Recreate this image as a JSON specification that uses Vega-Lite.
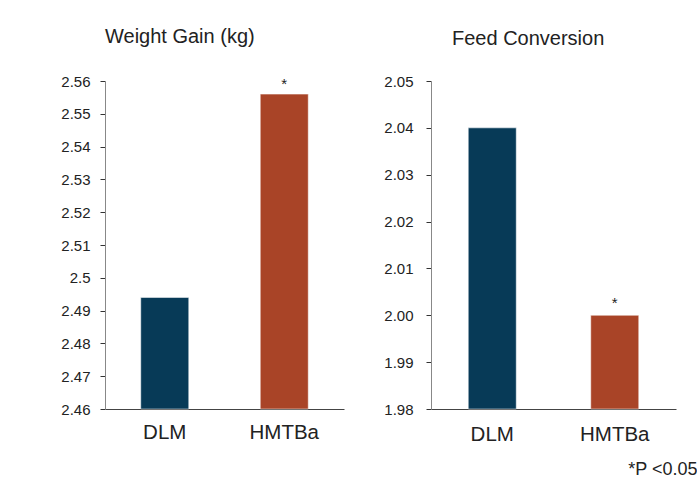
{
  "$schema": "https://vega.github.io/schema/vega-lite/v6.json",
  "padding": {"left": 60, "top": 27, "right": 0, "bottom": 0},
  "background": "white",
  "spacing": 39,
  "config": {
    "font": "Liberation Sans",
    "view": {"stroke": null},
    "axis": {"labelFont": "Liberation Sans", "titleFont": "Liberation Sans", "labelColor": "#222", "grid": false},
    "title": {"font": "Liberation Sans", "fontWeight": "normal", "fontSize": 20, "color": "#222", "anchor": "start", "frame": "group", "offset": 27}
  },
  "datasets": {
    "wg": [
      {"diet": "DLM", "value": 2.494, "sig": ""},
      {"diet": "HMTBa", "value": 2.556, "sig": "*"}
    ],
    "fc": [
      {"diet": "DLM", "value": 2.04, "sig": ""},
      {"diet": "HMTBa", "value": 2.0, "sig": "*"}
    ]
  },
  "hconcat": [
    {
      "width": 239,
      "height": 328,
      "title": {"text": "Weight Gain (kg)"},
      "data": {"name": "wg"},
      "encoding": {
        "x": {"field": "diet", "type": "nominal", "sort": null, "scale": {"paddingInner": 0, "paddingOuter": 0},
              "axis": {"title": null, "labelAngle": 0, "labelFontSize": 20.5, "labelPadding": 13, "ticks": false, "domainColor": "#444"}},
        "y": {"field": "value", "type": "quantitative", "scale": {"domain": [2.46, 2.56], "nice": false, "zero": false},
              "axis": {"title": null, "values": [2.46, 2.47, 2.48, 2.49, 2.5, 2.51, 2.52, 2.53, 2.54, 2.55, 2.56], "format": ".2~f", "labelFontSize": 15, "labelPadding": 10, "tickSize": 5, "tickColor": "#333", "domainColor": "#888"}}
      },
      "layer": [
        {
          "mark": {"type": "bar", "size": 48, "stroke": "#ffffff", "strokeOpacity": 0.5, "strokeWidth": 1},
          "encoding": {
            "y2": {"datum": 2.46},
            "color": {"field": "diet", "type": "nominal", "scale": {"domain": ["DLM", "HMTBa"], "range": ["#073A57", "#A94427"]}, "legend": null}
          }
        },
        {
          "mark": {"type": "text", "baseline": "bottom", "dy": -2, "fontSize": 15, "color": "#222"},
          "encoding": {"text": {"field": "sig"}}
        }
      ]
    },
    {
      "width": 245,
      "height": 328,
      "title": {"text": "Feed Conversion", "dx": 21, "dy": 2},
      "data": {"name": "fc"},
      "encoding": {
        "x": {"field": "diet", "type": "nominal", "sort": null, "scale": {"paddingInner": 0, "paddingOuter": 0},
              "axis": {"title": "*P <0.05", "titleFontSize": 18, "titleFontWeight": "normal", "titleColor": "#222", "titleAnchor": "end", "titleAlign": "right", "titleX": 266, "titleY": 51, "labelAngle": 0, "labelFontSize": 20.5, "labelPadding": 15, "ticks": false, "domainColor": "#444"}},
        "y": {"field": "value", "type": "quantitative", "scale": {"domain": [1.98, 2.05], "nice": false, "zero": false},
              "axis": {"title": null, "values": [1.98, 1.99, 2.0, 2.01, 2.02, 2.03, 2.04, 2.05], "format": ".2f", "labelFontSize": 15, "labelPadding": 13, "tickSize": 5, "tickColor": "#333", "domainColor": "#888"}}
      },
      "layer": [
        {
          "mark": {"type": "bar", "size": 48, "stroke": "#ffffff", "strokeOpacity": 0.5, "strokeWidth": 1},
          "encoding": {
            "y2": {"datum": 1.98},
            "color": {"field": "diet", "type": "nominal", "scale": {"domain": ["DLM", "HMTBa"], "range": ["#073A57", "#A94427"]}, "legend": null}
          }
        },
        {
          "mark": {"type": "text", "baseline": "bottom", "dy": -4, "fontSize": 15, "color": "#222"},
          "encoding": {"text": {"field": "sig"}}
        }
      ]
    }
  ]
}
